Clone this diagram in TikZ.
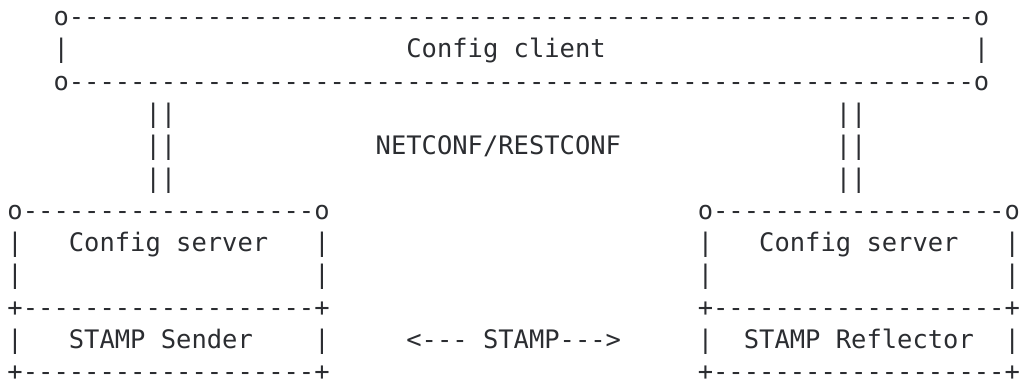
\documentclass[tikz,border=0pt]{standalone}
\usepackage{fontspec}
\setmonofont{DejaVu Sans Mono}
\usepackage{tikz}
\definecolor{ink}{HTML}{2B2D31}

\begin{document}
\begin{tikzpicture}[x=15.34pt,y=-32.3pt,
  txt/.style={anchor=base west,inner sep=0pt,text=ink,
    font=\ttfamily\fontsize{25.48}{30}\selectfont}]
\useasboundingbox (0,0) rectangle (1021pt,-381pt);
\begin{scope}[shift={(7.3pt,-25.5pt)}]
% config client box
\node[txt] (clitop) at (3,0) {o-----------------------------------------------------------o};
\node[txt] (clil) at (3,1) {|};
\node[txt] (cli) at (26,1) {Config client};
\node[txt] (clir) at (63,1) {|};
\node[txt] (clibot) at (3,2) {o-----------------------------------------------------------o};
% management links
\foreach \r in {3,4,5} {
  \node[txt] (linkl\r) at (9,\r) {||};
  \node[txt] (linkr\r) at (54,\r) {||};
}
\node[txt] (nc) at (24,4) {NETCONF/RESTCONF};
% sender side
\node[txt] (sndtop) at (0,6) {o-------------------o};
\node[txt] (sndmid) at (0,9) {+-------------------+};
\node[txt] (sndbot) at (0,11) {+-------------------+};
\foreach \r in {7,8,10} {
  \node[txt] (sndl\r) at (0,\r) {|};
  \node[txt] (sndr\r) at (20,\r) {|};
}
\node[txt] (srv1) at (4,7) {Config server};
\node[txt] (snd) at (4,10) {STAMP Sender};
% reflector side
\node[txt] (refltop) at (45,6) {o-------------------o};
\node[txt] (reflmid) at (45,9) {+-------------------+};
\node[txt] (reflbot) at (45,11) {+-------------------+};
\foreach \r in {7,8,10} {
  \node[txt] (refll\r) at (45,\r) {|};
  \node[txt] (reflr\r) at (65,\r) {|};
}
\node[txt] (srv2) at (49,7) {Config server};
\node[txt] (refl) at (48,10) {STAMP Reflector};
% test traffic
\node[txt] (stamp) at (26,10) {<--- STAMP--->};
\end{scope}
\end{tikzpicture}
\end{document}
